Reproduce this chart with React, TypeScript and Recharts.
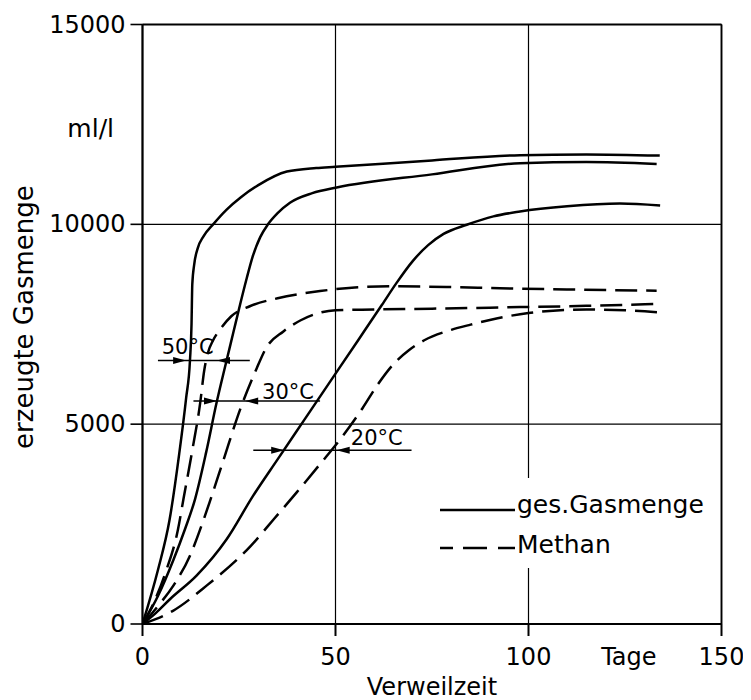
import React from "react";
import {
  LineChart,
  Line,
  XAxis,
  YAxis,
  CartesianGrid,
  ReferenceLine,
  ReferenceDot,
  Legend,
} from "recharts";

const FONT = "'DejaVu Sans', sans-serif";

const xTicks = [0, 50, 100, 150];
const yTicks = [0, 5000, 10000, 15000];
const seriesNames = ["ges.Gasmenge", "Methan"];
const xAxisTitle = "Verweilzeit";
const xUnit = "Tage";
const yAxisTitle = "erzeugte Gasmenge";
const yUnit = "ml/l";

// ges. Gasmenge 50 °C
const gas50X = [0, 4, 7, 9.5, 11.3, 12.3, 12.7, 12.9, 13.4, 14.3, 15.8, 18.3, 21.8, 25.5, 30, 37.4, 45, 50, 75, 97.8, 115, 134];
const gas50Y = [0, 1350, 2600, 4250, 5650, 6600, 7500, 8500, 9000, 9400, 9700, 10000, 10370, 10680, 10980, 11320, 11410, 11440, 11600, 11730, 11750, 11720];
// ges. Gasmenge 30 °C
const gas30X = [0, 4, 8, 11, 13.6, 16.5, 19.2, 21.5, 23.5, 25.3, 27, 28.5, 30.5, 32.5, 35, 38.2, 44, 50.3, 75, 97.8, 115, 133.2];
const gas30Y = [0, 700, 1600, 2370, 3120, 4300, 5540, 6480, 7280, 8000, 8650, 9180, 9680, 10000, 10280, 10540, 10780, 10920, 11250, 11530, 11560, 11510];
// ges. Gasmenge 20 °C
const gas20X = [0, 3.5, 7.1, 14, 21.8, 28.6, 35, 42, 49, 56, 62, 66, 70, 74, 78, 84, 90.9, 97.8, 110, 123.7, 134.1];
const gas20Y = [0, 280, 620, 1210, 2120, 3200, 4120, 5120, 6120, 7120, 7980, 8560, 9080, 9480, 9760, 9990, 10200, 10320, 10450, 10520, 10470];
// Methan 50 °C
const meth50X = [0, 3, 6, 9.2, 10.6, 13, 14.9, 16, 17, 18.3, 20.1, 23, 27.8, 35, 46, 55, 65, 80, 92.6, 110, 133.2];
const meth50Y = [0, 550, 1300, 2370, 3120, 4400, 5500, 6350, 6800, 7100, 7370, 7700, 7950, 8150, 8330, 8420, 8450, 8430, 8400, 8370, 8340];
// Methan 30 °C
const meth30X = [0, 4.1, 8, 12.3, 15.8, 17.5, 20.9, 25.3, 29.6, 32, 36.5, 41, 46, 50, 60, 75, 97.8, 115, 133.2];
const meth30Y = [0, 460, 960, 1710, 2600, 3080, 4080, 5370, 6400, 6900, 7320, 7600, 7790, 7850, 7870, 7890, 7930, 7960, 8010];
// Methan 20 °C
const meth20X = [0, 7.9, 16.6, 28, 34, 40, 46, 52, 57, 61, 65, 69, 73, 80, 85, 92, 100, 115, 125, 134.9];
const meth20Y = [0, 330, 960, 1950, 2620, 3300, 4000, 4720, 5400, 6000, 6500, 6850, 7100, 7360, 7490, 7650, 7780, 7870, 7850, 7790];

// temperature annotations
const tempLabels = ["50°C", "30°C", "20°C"];
const arrowY = [6595, 5578, 4347];
const arrowFrom = [4.0, 13.2, 28.7];
const arrowTo = [27.8, 46, 69.7];
const arrowRightTip = [11.3, 19.3, 36.7];
const arrowLeftTip = [19.3, 26.6, 50.3];
const labelX = [11.7, 37.7, 60.7];
const labelY = [6945, 5820, 4684];

const zip = (xs: number[], ys: number[]) => xs.map((x, i) => ({ x, y: ys[i] }));

const series = [
  { key: "g50", data: zip(gas50X, gas50Y), dashed: false },
  { key: "g30", data: zip(gas30X, gas30Y), dashed: false },
  { key: "g20", data: zip(gas20X, gas20Y), dashed: false },
  { key: "m50", data: zip(meth50X, meth50Y), dashed: true },
  { key: "m30", data: zip(meth30X, meth30Y), dashed: true },
  { key: "m20", data: zip(meth20X, meth20Y), dashed: true },
];

const XTick = (props: any) => {
  const { x, y, payload } = props;
  return (
    <text x={x} y={y} dy={27} textAnchor="middle" fontSize={24} fontFamily={FONT} fill="#000">
      {payload.value}
    </text>
  );
};

const YTick = (props: any) => {
  const { x, y, payload } = props;
  return (
    <text x={x} y={y} dy={8} textAnchor="end" fontSize={24} fontFamily={FONT} fill="#000">
      {payload.value}
    </text>
  );
};

const XLabel = (props: any) => {
  const vb = props.viewBox;
  return (
    <g>
      <text x={vb.x + vb.width / 2} y={vb.y + 71} textAnchor="middle" fontSize={24} fontFamily={FONT} fill="#000">
        {xAxisTitle}
      </text>
      <text x={vb.x + (vb.width * 126) / 150} y={vb.y + 41} textAnchor="middle" fontSize={24} fontFamily={FONT} fill="#000">
        {xUnit}
      </text>
    </g>
  );
};

const YLabel = (props: any) => {
  const vb = props.viewBox;
  const cx = vb.x + 10.5;
  const cy = vb.y + vb.height * 0.488;
  return (
    <g>
      <text
        x={cx}
        y={cy}
        transform={`rotate(-90, ${cx}, ${cy})`}
        textAnchor="middle"
        fontSize={26}
        fontFamily={FONT}
        fill="#000"
      >
        {yAxisTitle}
      </text>
      <text x={vb.x + 91.5} y={vb.y + 112.5} textAnchor="end" fontSize={25} fontFamily={FONT} fill="#000">
        {yUnit}
      </text>
    </g>
  );
};

const renderLegend = () => (
  <div style={{ background: "#fff", width: 280, height: 90 }}>
    <svg width={280} height={90} style={{ display: "block" }}>
      <line x1={5} y1={32} x2={80} y2={32} stroke="#000" strokeWidth={2.5} />
      <text x={82} y={35} fontSize={25} fontFamily={FONT} fill="#000">
        {seriesNames[0]}
      </text>
      <line x1={5} y1={70} x2={80} y2={70} stroke="#000" strokeWidth={2.5} strokeDasharray="13 10 24 11 17 100" />
      <text x={82} y={75} fontSize={25} fontFamily={FONT} fill="#000">
        {seriesNames[1]}
      </text>
    </svg>
  </div>
);

const ArrowRight = (props: any) => {
  const { cx, cy } = props;
  return <polygon points={`${cx},${cy} ${cx - 13},${cy - 3.5} ${cx - 13},${cy + 3.5}`} fill="#000" />;
};
const ArrowLeft = (props: any) => {
  const { cx, cy } = props;
  return <polygon points={`${cx},${cy} ${cx + 13},${cy - 3.5} ${cx + 13},${cy + 3.5}`} fill="#000" />;
};

export default function App() {
  return (
    <LineChart
      width={743}
      height={692}
      margin={{ top: 16.5, right: 29.5, bottom: 36, left: 14.5 }}
    >
      <CartesianGrid stroke="#000" strokeWidth={1.2} strokeDasharray="" />
      <XAxis
        dataKey="x"
        type="number"
        domain={[0, 150]}
        ticks={xTicks}
        allowDataOverflow
        height={40}
        tickSize={12}
        tick={<XTick />}
        axisLine={{ stroke: "#000", strokeWidth: 2.2 }}
        tickLine={{ stroke: "#000", strokeWidth: 2 }}
        label={<XLabel />}
      />
      <YAxis
        dataKey="y"
        type="number"
        domain={[0, 15000]}
        ticks={yTicks}
        allowDataOverflow
        width={120}
        tickSize={12}
        tickMargin={5}
        tick={<YTick />}
        axisLine={{ stroke: "#000", strokeWidth: 2.2 }}
        tickLine={{ stroke: "#000", strokeWidth: 1.6 }}
        label={<YLabel />}
      />
      <ReferenceLine y={15000} stroke="#000" strokeWidth={1.8} />
      <ReferenceLine x={150} stroke="#000" strokeWidth={1.8} />
      {series.map((s) => (
        <Line
          key={s.key}
          data={s.data}
          dataKey="y"
          type="monotone"
          stroke="#000"
          strokeWidth={2.5}
          strokeDasharray={s.dashed ? "22 9" : undefined}
          dot={false}
          activeDot={false}
          isAnimationActive={false}
          legendType="none"
        />
      ))}
      {tempLabels.map((t, i) => (
        <ReferenceLine
          key={"seg" + i}
          segment={[
            { x: arrowFrom[i], y: arrowY[i] },
            { x: arrowTo[i], y: arrowY[i] },
          ]}
          stroke="#000"
          strokeWidth={1.5}
        />
      ))}
      {tempLabels.map((t, i) => (
        <ReferenceDot key={"ar" + i} x={arrowRightTip[i]} y={arrowY[i]} r={0} shape={<ArrowRight />} />
      ))}
      {tempLabels.map((t, i) => (
        <ReferenceDot key={"al" + i} x={arrowLeftTip[i]} y={arrowY[i]} r={0} shape={<ArrowLeft />} />
      ))}
      {tempLabels.map((t, i) => (
        <ReferenceDot
          key={"lb" + i}
          x={labelX[i]}
          y={labelY[i]}
          r={0}
          shape={(p: any) => (
            <text x={p.cx} y={p.cy} dy={8} textAnchor="middle" fontSize={21} fontFamily={FONT} fill="#000">
              {t}
            </text>
          )}
        />
      ))}
      <Legend
        content={renderLegend}
        layout="vertical"
        align="center"
        verticalAlign="middle"
        wrapperStyle={{ position: "absolute", left: 427, top: 470, width: 280, height: 90 }}
      />
    </LineChart>
  );
}
